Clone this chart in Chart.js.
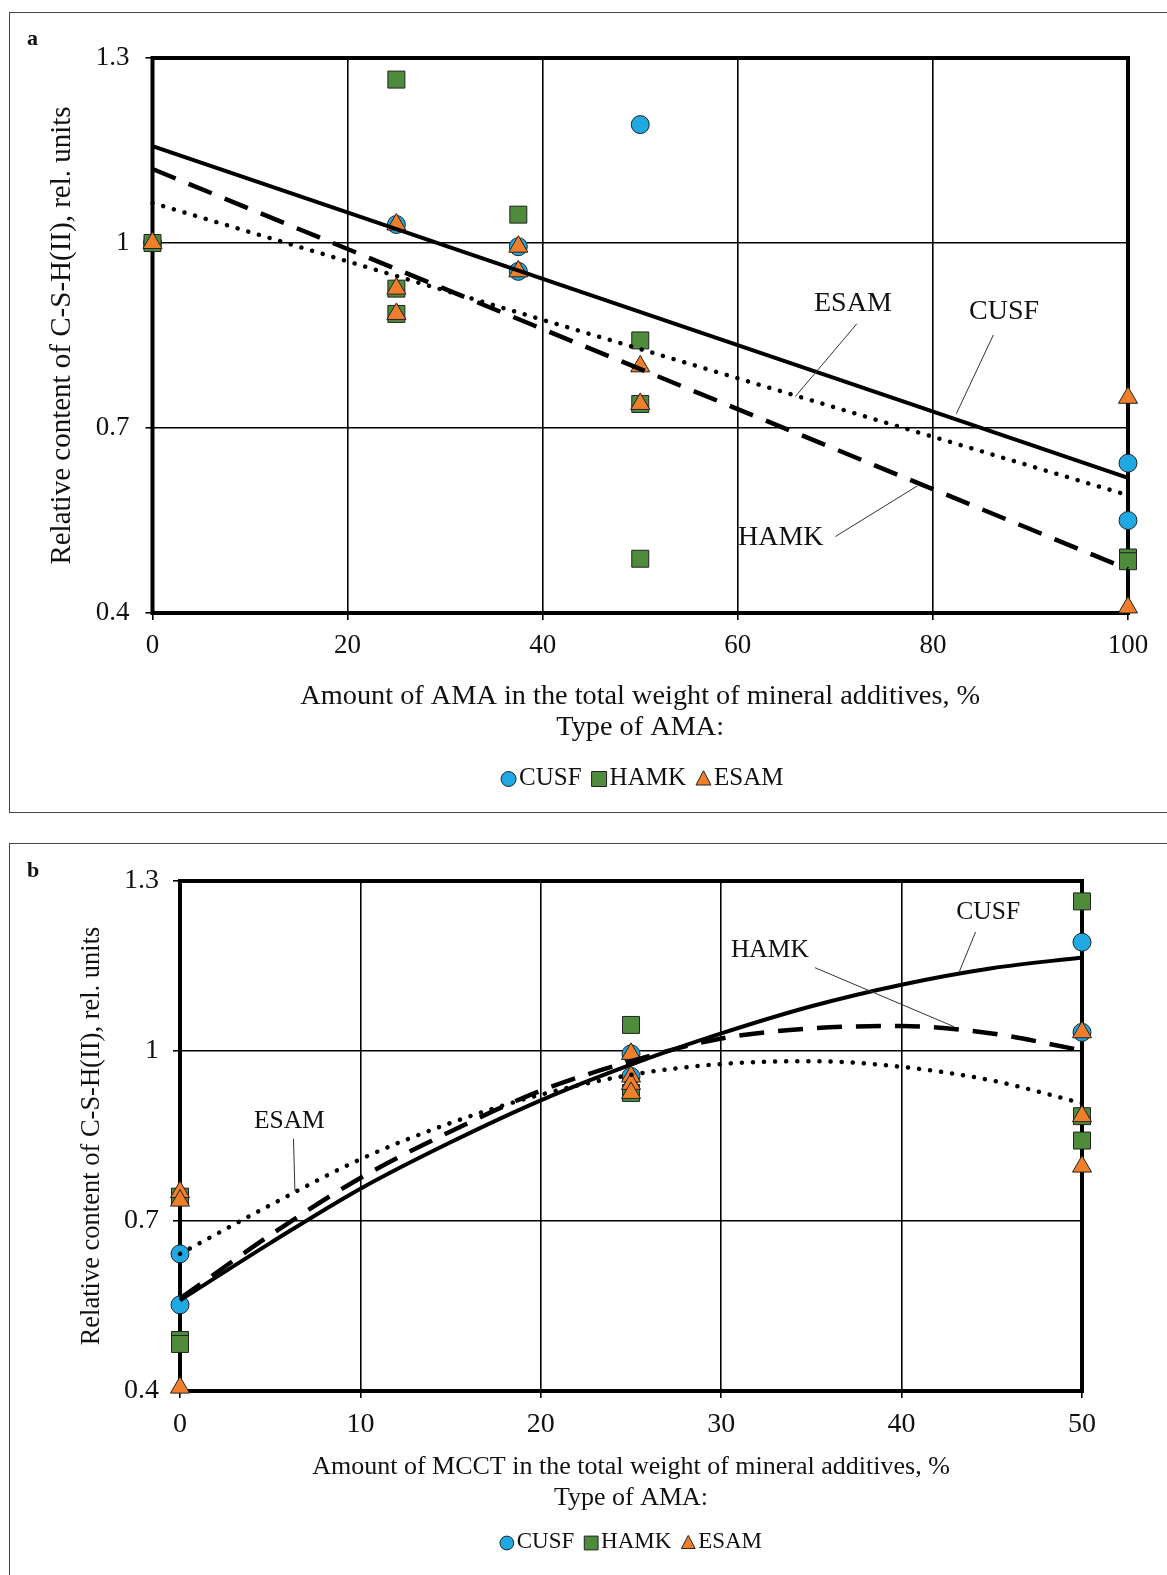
<!DOCTYPE html>
<html>
<head>
<meta charset="utf-8">
<script src="https://cdn.jsdelivr.net/npm/chart.js@4.4.1/dist/chart.umd.min.js"></script>
<style>
  html, body { margin: 0; padding: 0; background: #fff; }
  body { width: 1167px; height: 1575px; position: relative; overflow: hidden; }
  .panel { position: absolute; left: 9px; width: 1160px; border: 1px solid #444; background: #fff; }
  #panelA { top: 12px; height: 799px; }
  #panelB { top: 843px; height: 760px; }
  canvas { position: absolute; left: 0; top: 0; }
</style>
</head>
<body>
<div class="panel" id="panelA"><canvas id="chartA" width="1158" height="799"></canvas></div>
<div class="panel" id="panelB"><canvas id="chartB" width="1158" height="731"></canvas></div>
<script>
const FONT = '"Liberation Serif", "Times New Roman", serif';

const seriesNames = ['CUSF', 'HAMK', 'ESAM'];
const yTicks = [0.4, 0.7, 1, 1.3];

// --- panel a: amount of AMA ---
const xTicksA = [0, 20, 40, 60, 80, 100];
const cusfAX = [0, 25, 37.5, 37.5, 50, 100, 100];
const cusfAY = [1.0, 1.03, 0.994, 0.954, 1.192, 0.643, 0.55];
const hamkAX = [0, 25, 25, 25, 37.5, 50, 50, 50, 100, 100];
const hamkAY = [1.0, 1.265, 0.926, 0.885, 1.046, 0.842, 0.739, 0.488, 0.49, 0.484];
const esamAX = [0, 25, 25, 25, 37.5, 37.5, 50, 50, 100, 100];
const esamAY = [1.0, 1.03, 0.926, 0.885, 0.994, 0.954, 0.80, 0.739, 0.749, 0.409];
// linear trend lines
const fitAX = [0, 100];
const cusfFitA = [1.157, 0.619];
const hamkFitA = [1.12, 0.471];
const esamFitA = [1.065, 0.591];

// --- panel b: amount of MCCT ---
const xTicksB = [0, 10, 20, 30, 40, 50];
const cusfBX = [0, 0, 25, 25, 50, 50];
const cusfBY = [0.642, 0.552, 0.995, 0.955, 1.192, 1.033];
const hamkBX = [0, 0, 0, 25, 25, 50, 50, 50];
const hamkBY = [0.743, 0.49, 0.483, 1.046, 0.926, 1.264, 0.885, 0.842];
const esamBX = [0, 0, 0, 25, 25, 25, 25, 50, 50, 50];
const esamBY = [0.751, 0.736, 0.406, 0.995, 0.955, 0.942, 0.926, 1.033, 0.885, 0.796];
// polynomial trend lines
const fitBX = [0, 5, 10, 15, 20, 25, 30, 35, 40, 45, 50];
const cusfFitB = [0.56, 0.661, 0.757, 0.839, 0.913, 0.976, 1.031, 1.079, 1.117, 1.146, 1.165];
const hamkFitB = [0.563, 0.675, 0.776, 0.858, 0.93, 0.982, 1.022, 1.04, 1.044, 1.031, 1.001];
const esamFitB = [0.642, 0.728, 0.809, 0.873, 0.923, 0.958, 0.977, 0.982, 0.972, 0.948, 0.908];

const markerStyle = {
    CUSF: { pointStyle: 'circle', radius: 9, color: '#1FA8E1' },
    HAMK: { pointStyle: 'rect', radius: 12, color: '#4E8B3A' },
    ESAM: { pointStyle: 'triangle', radius: 11, color: '#F07F2C' }
};
const lineDash = { CUSF: [], HAMK: [25, 14], ESAM: [0.1, 11] };

const zip = (xs, ys) => xs.map((x, i) => ({ x: x, y: ys[i] }));

function pointSet(name, xs, ys, order) {
    const m = markerStyle[name];
    return {
        label: name, data: zip(xs, ys), showLine: false, order: order, clip: false,
        pointStyle: m.pointStyle, pointRadius: m.radius, pointHoverRadius: m.radius,
        backgroundColor: m.color, borderColor: '#222', borderWidth: 1
    };
}
function fitSet(name, xs, ys, curved) {
    return {
        label: name + ' trend', data: zip(xs, ys), showLine: true, order: 0, clip: false,
        pointRadius: 0, borderColor: '#000', borderWidth: name === 'CUSF' ? 4 : 4.5,
        borderDash: lineDash[name], borderCapStyle: name === 'ESAM' ? 'round' : 'butt',
        cubicInterpolationMode: curved ? 'monotone' : 'default', fill: false
    };
}

// small marker for the hand drawn legend
function drawMarker(ctx, style, x, y, r) {
    ctx.save();
    ctx.fillStyle = style.color;
    ctx.strokeStyle = '#222';
    ctx.lineWidth = 1;
    ctx.beginPath();
    if (style.pointStyle === 'circle') {
        ctx.arc(x, y, r, 0, Math.PI * 2);
    } else if (style.pointStyle === 'rect') {
        ctx.rect(x - r, y - r, 2 * r, 2 * r);
    } else {
        ctx.moveTo(x, y - r * 1.1);
        ctx.lineTo(x + r, y + r * 0.8);
        ctx.lineTo(x - r, y + r * 0.8);
        ctx.closePath();
    }
    ctx.fill();
    ctx.stroke();
    ctx.restore();
}

const panelDecor = {
    id: 'panelDecor',
    beforeDatasetsDraw(chart) {
        const a = chart.chartArea, ctx = chart.ctx;
        ctx.save();
        ctx.strokeStyle = '#000';
        ctx.lineWidth = 4;
        ctx.strokeRect(a.left, a.top, a.right - a.left, a.bottom - a.top);
        ctx.restore();
    },
    afterDraw(chart, args, opts) {
        const ctx = chart.ctx, xs = chart.scales.x, ys = chart.scales.y, a = chart.chartArea;
        ctx.save();
        // leader lines and curve names
        ctx.strokeStyle = '#333';
        ctx.lineWidth = 1;
        ctx.fillStyle = '#111';
        ctx.font = opts.noteFont + 'px ' + FONT;
        ctx.textAlign = 'center';
        ctx.textBaseline = 'middle';
        opts.notes.forEach(n => {
            ctx.beginPath();
            ctx.moveTo(xs.getPixelForValue(n.line[0]), ys.getPixelForValue(n.line[1]));
            ctx.lineTo(xs.getPixelForValue(n.line[2]), ys.getPixelForValue(n.line[3]));
            ctx.stroke();
            ctx.fillText(n.text, xs.getPixelForValue(n.at[0]), ys.getPixelForValue(n.at[1]));
        });
        // legend
        ctx.font = opts.legendFont + 'px ' + FONT;
        ctx.textAlign = 'left';
        const r = opts.legendFont * 0.3;
        const gap = 3, spacing = 10;
        const widths = seriesNames.map(s => 2 * r + gap + ctx.measureText(s).width);
        const total = widths.reduce((p, w) => p + w, 0) + spacing * (seriesNames.length - 1);
        let x = (a.left + a.right) / 2 - total / 2 + opts.legendShift;
        seriesNames.forEach((s, i) => {
            drawMarker(ctx, markerStyle[s], x + r, opts.legendY + 1, r);
            ctx.fillText(s, x + 2 * r + gap, opts.legendY);
            x += widths[i] + spacing;
        });
        // panel letter
        ctx.font = 'bold 22px ' + FONT;
        ctx.fillText(opts.letter, 17, opts.letterY);
        ctx.restore();
    }
};

function makeChart(id, cfg) {
    return new Chart(document.getElementById(id), {
        type: 'scatter',
        data: { datasets: cfg.datasets },
        plugins: [panelDecor],
        options: {
            responsive: false,
            animation: false,
            devicePixelRatio: 1,
            layout: { padding: cfg.padding },
            plugins: {
                legend: { display: false },
                tooltip: { enabled: false },
                panelDecor: cfg.decor
            },
            scales: {
                x: {
                    min: cfg.xTicks[0], max: cfg.xTicks[cfg.xTicks.length - 1],
                    afterBuildTicks: s => { s.ticks = cfg.xTicks.map(v => ({ value: v })); },
                    afterFit: s => { s.height = cfg.xHeight; },
                    grid: { color: '#000', lineWidth: 1.6, tickLength: 7 },
                    border: { display: false },
                    ticks: { color: '#111', padding: cfg.xTickPad, font: { family: FONT, size: cfg.tickSize }, maxRotation: 0 },
                    title: {
                        display: true, text: cfg.xTitle, color: '#111',
                        font: { family: FONT, size: cfg.xTitleSize, lineHeight: cfg.xTitleLH },
                        padding: { top: 0, bottom: cfg.xTitlePad }
                    }
                },
                y: {
                    min: 0.4, max: 1.3,
                    afterBuildTicks: s => { s.ticks = yTicks.map(v => ({ value: v })); },
                    afterFit: s => { s.width = cfg.yWidth; },
                    grid: { color: '#000', lineWidth: 1.6, tickLength: 7 },
                    border: { display: false },
                    ticks: { color: '#111', padding: cfg.yTickPad, font: { family: FONT, size: cfg.tickSize }, callback: v => String(v) },
                    title: {
                        display: true, text: 'Relative content of C-S-H(II), rel. units', color: '#111',
                        font: { family: FONT, size: cfg.yTitleSize, lineHeight: 1.2 },
                        padding: { top: cfg.yTitlePad, bottom: 0 }
                    }
                }
            }
        }
    });
}

makeChart('chartA', {
    datasets: [
        fitSet('CUSF', fitAX, cusfFitA, false),
        fitSet('HAMK', fitAX, hamkFitA, false),
        fitSet('ESAM', fitAX, esamFitA, false),
        pointSet('ESAM', esamAX, esamAY, 1),
        pointSet('HAMK', hamkAX, hamkAY, 2),
        pointSet('CUSF', cusfAX, cusfAY, 3)
    ],
    padding: { top: 45, left: 0, right: 40, bottom: 49 },
    xTicks: xTicksA, xHeight: 150, xTickPad: 10, tickSize: 27,
    xTitle: ['Amount of AMA in the total weight of mineral additives, %', 'Type of AMA:'],
    xTitleSize: 28.3, xTitleLH: 1.1, xTitlePad: 19.5,
    yWidth: 142.5, yTickPad: 16, yTitleSize: 29, yTitlePad: 35,
    decor: {
        letter: 'a', letterY: 26, legendY: 765, legendFont: 25, legendShift: 2, noteFont: 28,
        notes: [
            { text: 'ESAM', at: [71.8, 0.902], line: [72.2, 0.869, 65.9, 0.751] },
            { text: 'CUSF', at: [87.3, 0.889], line: [86.2, 0.851, 82.4, 0.723] },
            { text: 'HAMK', at: [64.4, 0.522], line: [70.0, 0.524, 78.4, 0.606] }
        ]
    }
});

makeChart('chartB', {
    datasets: [
        fitSet('CUSF', fitBX, cusfFitB, true),
        fitSet('HAMK', fitBX, hamkFitB, true),
        fitSet('ESAM', fitBX, esamFitB, true),
        pointSet('ESAM', esamBX, esamBY, 1),
        pointSet('HAMK', hamkBX, hamkBY, 2),
        pointSet('CUSF', cusfBX, cusfBY, 3)
    ],
    padding: { top: 37, left: 0, right: 86, bottom: 34 },
    xTicks: xTicksB, xHeight: 150, xTickPad: 10, tickSize: 28,
    xTitle: ['Amount of MCCT in the total weight of mineral additives, %', 'Type of AMA:'],
    xTitleSize: 26, xTitleLH: 1.19, xTitlePad: 27.5,
    yWidth: 170, yTickPad: 14, yTitleSize: 26.5, yTitlePad: 66.5,
    decor: {
        letter: 'b', letterY: 27, legendY: 698, legendFont: 23, legendShift: 0, noteFont: 25.5,
        notes: [
            { text: 'ESAM', at: [6.06, 0.876], line: [6.29, 0.845, 6.37, 0.753] },
            { text: 'HAMK', at: [32.7, 1.177], line: [35.2, 1.147, 42.9, 1.043] },
            { text: 'CUSF', at: [44.8, 1.244], line: [44.1, 1.21, 43.2, 1.14] }
        ]
    }
});
</script>
</body>
</html>
